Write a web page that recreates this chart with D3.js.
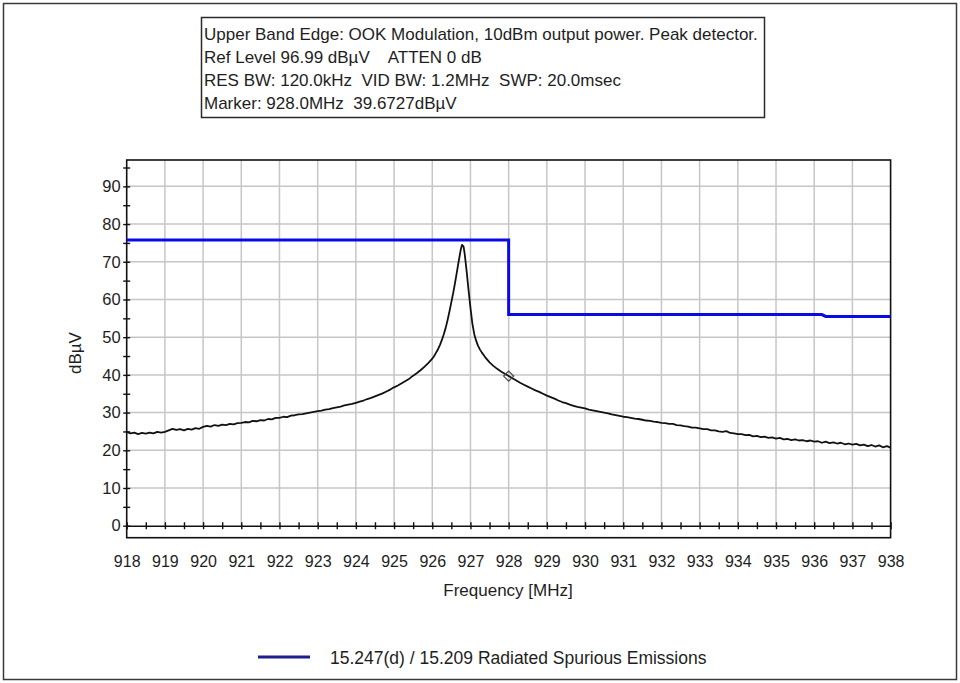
<!DOCTYPE html>
<html>
<head>
<meta charset="utf-8">
<script src="https://cdn.jsdelivr.net/npm/d3@7"></script>
<style>
  html, body { margin: 0; padding: 0; background: #fff; }
  svg { display: block; }
  text { font-family: "Liberation Sans", Arial, sans-serif; fill: #1e1e1e; white-space: pre; }
</style>
</head>
<body>
<svg id="chart" width="960" height="683"></svg>
<script>
// Analyzer settings shown in the header box
const headerLines = [
  "Upper Band Edge: OOK Modulation, 10dBm output power. Peak detector.",
  "Ref Level 96.99 dB\u00b5V    ATTEN 0 dB",
  "RES BW: 120.0kHz  VID BW: 1.2MHz  SWP: 20.0msec",
  "Marker: 928.0MHz  39.6727dB\u00b5V"
];

// Axis ticks
const freqTicks = [918, 919, 920, 921, 922, 923, 924, 925, 926, 927, 928, 929, 930, 931, 932, 933, 934, 935, 936, 937, 938];
const levelTicks = [0, 10, 20, 30, 40, 50, 60, 70, 80, 90];
const freqDomain = [918, 938];
const levelDomain = [-3.18, 96.99];

// FCC 15.247(d) / 15.209 limit line [MHz, dBuV]
const limitLine = [
  [918, 75.8], [928, 75.8], [928, 56.0], [936.2, 56.0], [936.3, 55.5], [938, 55.5]
];
const limitName = "15.247(d) / 15.209 Radiated Spurious Emissions";

// Marker
const marker = [928.0, 39.6727];

// Peak-detector sweep [MHz, dBuV]
const sweep = [
  [918.0, 24.9], [918.1, 24.5], [918.2, 24.7], [918.3, 24.3], [918.4, 24.6], [918.5, 24.4],
  [918.6, 24.7], [918.7, 24.5], [918.8, 24.9], [918.9, 24.7], [919.0, 24.9], [919.1, 25.3],
  [919.2, 25.7], [919.3, 25.4], [919.4, 25.6], [919.5, 25.3], [919.6, 25.7], [919.7, 25.5],
  [919.8, 25.9], [919.9, 25.7], [920.0, 26.2], [920.1, 26.5], [920.2, 26.3], [920.3, 26.7],
  [920.4, 26.5], [920.5, 26.8], [920.6, 26.7], [920.7, 27.0], [920.8, 26.9], [920.9, 27.2],
  [921.0, 27.3], [921.1, 27.5], [921.2, 27.4], [921.3, 27.8], [921.4, 27.7], [921.5, 28.0],
  [921.6, 27.9], [921.7, 28.3], [921.8, 28.2], [921.9, 28.6], [922.0, 28.6], [922.1, 28.9],
  [922.2, 28.8], [922.3, 29.2], [922.4, 29.3], [922.5, 29.5], [922.6, 29.6], [922.7, 29.8],
  [922.8, 30.0], [922.9, 30.2], [923.0, 30.4], [923.1, 30.5], [923.2, 30.8], [923.3, 30.9],
  [923.4, 31.2], [923.5, 31.4], [923.6, 31.6], [923.7, 31.9], [923.8, 32.1], [923.9, 32.3],
  [924.0, 32.6], [924.1, 32.9], [924.2, 33.2], [924.3, 33.6], [924.4, 33.9], [924.5, 34.3],
  [924.6, 34.7], [924.7, 35.1], [924.8, 35.6], [924.9, 36.1], [925.0, 36.7], [925.1, 37.2],
  [925.2, 37.8], [925.3, 38.4], [925.4, 39.0], [925.5, 39.8], [925.6, 40.5], [925.7, 41.3],
  [925.8, 42.2], [925.9, 43.2], [926.0, 44.3], [926.05, 45.0], [926.1, 45.9], [926.15, 46.8],
  [926.2, 47.9], [926.25, 49.2], [926.3, 50.7], [926.35, 52.4], [926.4, 54.5], [926.45, 56.8],
  [926.5, 59.3], [926.55, 61.8], [926.6, 64.6], [926.65, 67.6], [926.7, 70.6], [926.75, 73.4],
  [926.78, 74.5], [926.82, 74.0], [926.85, 72.0], [926.9, 67.5], [926.95, 62.5], [927.0, 57.8],
  [927.05, 53.6], [927.1, 50.8], [927.15, 49.0], [927.2, 47.7], [927.25, 46.7], [927.3, 45.9],
  [927.35, 45.2], [927.4, 44.5], [927.45, 43.9], [927.5, 43.3], [927.6, 42.4], [927.7, 41.6],
  [927.8, 40.9], [927.9, 40.3], [928.0, 39.7], [928.1, 39.1], [928.2, 38.5], [928.3, 37.9],
  [928.4, 37.4], [928.5, 36.9], [928.6, 36.4], [928.7, 35.9], [928.8, 35.5], [928.9, 35.0],
  [929.0, 34.5], [929.1, 34.1], [929.2, 33.7], [929.3, 33.2], [929.4, 32.8], [929.5, 32.5],
  [929.6, 32.1], [929.7, 31.8], [929.8, 31.5], [929.9, 31.3], [930.0, 31.1], [930.1, 30.8],
  [930.2, 30.6], [930.3, 30.4], [930.4, 30.2], [930.5, 30.0], [930.6, 29.8], [930.7, 29.5],
  [930.8, 29.3], [930.9, 29.1], [931.0, 28.9], [931.1, 28.8], [931.2, 28.6], [931.3, 28.4],
  [931.4, 28.3], [931.5, 28.1], [931.6, 27.9], [931.7, 27.8], [931.8, 27.6], [931.9, 27.5],
  [932.0, 27.3], [932.1, 27.2], [932.2, 27.0], [932.3, 27.0], [932.4, 26.7], [932.5, 26.6],
  [932.6, 26.4], [932.7, 26.3], [932.8, 26.0], [932.9, 26.0], [933.0, 25.8], [933.1, 25.6],
  [933.2, 25.6], [933.3, 25.3], [933.4, 25.3], [933.5, 25.0], [933.6, 24.9], [933.7, 25.1],
  [933.8, 24.6], [933.9, 24.5], [934.0, 24.3], [934.1, 24.3], [934.2, 24.0], [934.3, 24.1],
  [934.4, 23.7], [934.5, 23.8], [934.6, 23.5], [934.7, 23.6], [934.8, 23.3], [934.9, 23.4],
  [935.0, 23.1], [935.1, 23.3], [935.2, 22.9], [935.3, 23.0], [935.4, 22.7], [935.5, 22.9],
  [935.6, 22.6], [935.7, 22.7], [935.8, 22.4], [935.9, 22.6], [936.0, 22.3], [936.1, 22.4],
  [936.2, 22.0], [936.3, 22.3], [936.4, 21.9], [936.5, 22.1], [936.6, 21.8], [936.7, 22.0],
  [936.8, 21.6], [936.9, 21.8], [937.0, 21.5], [937.1, 21.7], [937.2, 21.3], [937.3, 21.5],
  [937.4, 21.1], [937.5, 21.4], [937.6, 21.0], [937.7, 21.3], [937.8, 20.8], [937.9, 21.1],
  [938.0, 20.7]
];

const svg = d3.select("#chart");

// Outer frame of the window
svg.append("rect")
  .attr("x", 3.5).attr("y", 3.5).attr("width", 953).attr("height", 676)
  .attr("fill", "#fff").attr("stroke", "#3a3a3a").attr("stroke-width", 1.5);

// Header box
const hdr = svg.append("g");
hdr.append("rect")
  .attr("x", 201.5).attr("y", 17.5).attr("width", 563).attr("height", 100)
  .attr("fill", "#fff").attr("stroke", "#2a2a2a").attr("stroke-width", 1.5);
hdr.selectAll("text").data(headerLines).join("text")
  .attr("x", 204)
  .attr("y", (d, i) => 40 + i * 23)
  .attr("font-size", 17)
  .attr("xml:space", "preserve")
  .text(d => d);

// Scales
const x = d3.scaleLinear().domain(freqDomain).range([126.7, 890.6]);
const y = d3.scaleLinear().domain(levelDomain).range([537.7, 160]);

const plot = svg.append("g");

// Grid
plot.append("g").selectAll("line").data(freqTicks.slice(1, -1)).join("line")
  .attr("x1", d => x(d)).attr("x2", d => x(d))
  .attr("y1", y(levelDomain[1])).attr("y2", y(0))
  .attr("stroke", "#c6c6c6").attr("stroke-width", 1.5);
plot.append("g").selectAll("line").data(levelTicks.slice(1)).join("line")
  .attr("x1", x(freqDomain[0])).attr("x2", x(freqDomain[1]))
  .attr("y1", d => y(d)).attr("y2", d => y(d))
  .attr("stroke", "#c6c6c6").attr("stroke-width", 1.5);

// Plot frame
plot.append("rect")
  .attr("x", x(freqDomain[0])).attr("y", y(levelDomain[1]))
  .attr("width", x(freqDomain[1]) - x(freqDomain[0]))
  .attr("height", y(levelDomain[0]) - y(levelDomain[1]))
  .attr("fill", "none").attr("stroke", "#111").attr("stroke-width", 1.6);

// X axis on the 0 dBuV line, ticks every 0.5 MHz crossing the line
const halfFreq = d3.range(freqDomain[0], freqDomain[1] + 0.01, 0.5);
const xAxis = plot.append("g")
  .attr("transform", `translate(0,${y(0)})`)
  .call(d3.axisBottom(x).tickValues(halfFreq).tickSize(0)
    .tickFormat(d => Number.isInteger(d) ? d3.format("d")(d) : ""));
xAxis.select(".domain").attr("stroke", "#111").attr("stroke-width", 1.6);
xAxis.selectAll(".tick line").attr("y1", -3.5).attr("y2", 3.5)
  .attr("stroke", "#111").attr("stroke-width", 1.4);
xAxis.selectAll(".tick text")
  .attr("y", 30).attr("dy", "0.71em")
  .attr("font-size", 16).attr("font-family", "Liberation Sans, Arial, sans-serif")
  .attr("fill", "#1e1e1e");

// Y axis, ticks every 5 dB crossing the left frame
const halfLevel = d3.range(0, 96, 5);
const yAxis = plot.append("g")
  .attr("transform", `translate(${x(freqDomain[0])},0)`)
  .call(d3.axisLeft(y).tickValues(halfLevel).tickSize(0)
    .tickFormat(d => d % 10 === 0 ? d3.format("d")(d) : ""));
yAxis.select(".domain").remove();
yAxis.selectAll(".tick line").attr("x1", -3.5).attr("x2", 3.5)
  .attr("stroke", "#111").attr("stroke-width", 1.4);
yAxis.selectAll(".tick text")
  .attr("x", -6)
  .attr("font-size", 16.5).attr("font-family", "Liberation Sans, Arial, sans-serif")
  .attr("fill", "#1e1e1e");

// Axis titles
svg.append("text")
  .attr("transform", "translate(81,353) rotate(-90)")
  .attr("text-anchor", "middle").attr("font-size", 17)
  .text("dB\u00b5V");
svg.append("text")
  .attr("x", 508).attr("y", 596)
  .attr("text-anchor", "middle").attr("font-size", 17)
  .text("Frequency [MHz]");

// Limit line
const line = d3.line().x(d => x(d[0])).y(d => y(d[1]));
plot.append("path").datum(limitLine)
  .attr("d", line)
  .attr("fill", "none").attr("stroke", "#0a0ae6").attr("stroke-width", 3);

// Sweep trace
plot.append("path").datum(sweep)
  .attr("d", line)
  .attr("fill", "none").attr("stroke", "#111").attr("stroke-width", 1.8)
  .attr("stroke-linejoin", "round");

// Marker diamond
const mx = x(marker[0]), my = y(marker[1]);
plot.append("path")
  .attr("d", `M${mx},${my - 5}L${mx + 5},${my}L${mx},${my + 5}L${mx - 5},${my}Z`)
  .attr("fill", "none").attr("stroke", "#444").attr("stroke-width", 1.2);

// Legend
const leg = svg.append("g");
leg.append("line")
  .attr("x1", 258).attr("x2", 310).attr("y1", 657).attr("y2", 657)
  .attr("stroke", "#1e1e8c").attr("stroke-width", 3);
leg.append("text")
  .attr("x", 330).attr("y", 664)
  .attr("font-size", 17.5)
  .text(limitName);
</script>
</body>
</html>
